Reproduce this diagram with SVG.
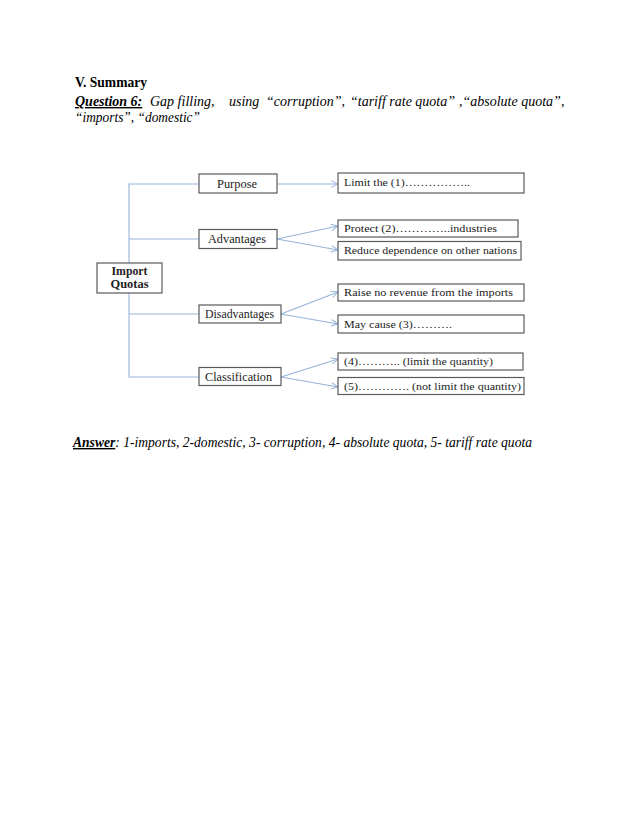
<svg xmlns="http://www.w3.org/2000/svg" width="638" height="826" viewBox="0 0 638 826">
<defs>
<style>
.body{font-family:"Liberation Serif","Times New Roman",serif;font-size:14px;fill:#000}
.it{font-style:italic}
.bd{font-weight:bold}
.box{fill:#fff;stroke:#5a5a5a;stroke-width:1.2}
.lbl{font-family:"Liberation Serif","DejaVu Serif",serif;font-size:10.5px;fill:#222}
.node{font-family:"Liberation Serif","DejaVu Serif",serif;font-size:11.5px;fill:#222}
.mid{text-anchor:middle}
.conn{fill:none;stroke:#95b3d7;stroke-width:1.1}
</style>
<marker id="ah" viewBox="0 0 10 10" refX="9.5" refY="5" markerWidth="8" markerHeight="8" markerUnits="userSpaceOnUse" orient="auto">
<path d="M1,1 L9.5,5 L1,9" fill="none" stroke="#95b3d7" stroke-width="1.2"/>
</marker>
</defs>
<rect width="638" height="826" fill="#fff"/>

<g id="header">
<text class="body bd" x="75" y="87" textLength="72" lengthAdjust="spacingAndGlyphs">V. Summary</text>
<text class="body it bd" x="75" y="106" text-decoration="underline">Question 6:</text>
<text class="body it" x="150" y="106">Gap filling,</text>
<text class="body it" x="229" y="106">using</text>
<text class="body it" x="266" y="106">“corruption”,</text>
<text class="body it" x="350" y="106">“tariff rate quota”</text>
<text class="body it" x="459" y="106">,“absolute quota”,</text>
<text class="body it" x="75" y="122" textLength="125" lengthAdjust="spacingAndGlyphs">“imports”, “domestic”</text>
</g>

<g id="connectors">
<polyline class="conn" points="199,184 129,184 129,263"/>
<line class="conn" x1="129" y1="239" x2="199" y2="239"/>
<polyline class="conn" points="129,293 129,377 199,377"/>
<line class="conn" x1="129" y1="314" x2="199" y2="314"/>
<line class="conn" x1="277" y1="184" x2="338" y2="184" marker-end="url(#ah)"/>
<line class="conn" x1="277" y1="239" x2="338" y2="226" marker-end="url(#ah)"/>
<line class="conn" x1="277" y1="239" x2="338" y2="250" marker-end="url(#ah)"/>
<line class="conn" x1="281" y1="314" x2="338" y2="292" marker-end="url(#ah)"/>
<line class="conn" x1="281" y1="314" x2="338" y2="324" marker-end="url(#ah)"/>
<line class="conn" x1="281" y1="377" x2="338" y2="359" marker-end="url(#ah)"/>
<line class="conn" x1="281" y1="377" x2="338" y2="387" marker-end="url(#ah)"/>
</g>

<g id="import-quotas">
<rect class="box" x="97" y="263" width="65" height="30"/>
<text class="node bd mid" x="129.5" y="275" textLength="36" lengthAdjust="spacingAndGlyphs">Import</text>
<text class="node bd mid" x="129.5" y="288" textLength="38" lengthAdjust="spacingAndGlyphs">Quotas</text>
</g>

<g id="purpose">
<rect class="box" x="199" y="174" width="78" height="19"/>
<text class="node mid" x="237" y="187.5" textLength="40" lengthAdjust="spacingAndGlyphs">Purpose</text>
</g>
<g id="advantages">
<rect class="box" x="199" y="229.5" width="78" height="19"/>
<text class="node mid" x="237" y="242.5" textLength="58" lengthAdjust="spacingAndGlyphs">Advantages</text>
</g>
<g id="disadvantages">
<rect class="box" x="199" y="305" width="82" height="18"/>
<text class="node mid" x="239.5" y="317.5" textLength="69" lengthAdjust="spacingAndGlyphs">Disadvantages</text>
</g>
<g id="classification">
<rect class="box" x="199" y="367.5" width="82" height="18"/>
<text class="node mid" x="238.5" y="380.5" textLength="67" lengthAdjust="spacingAndGlyphs">Classification</text>
</g>

<g id="limit">
<rect class="box" x="338" y="173" width="186" height="20"/>
<text class="lbl" x="344" y="186" textLength="126" lengthAdjust="spacingAndGlyphs">Limit the (1)……………..</text>
</g>
<g id="protect">
<rect class="box" x="338" y="220" width="180" height="17"/>
<text class="lbl" x="344" y="232" textLength="153" lengthAdjust="spacingAndGlyphs">Protect (2)…………..industries</text>
</g>
<g id="reduce">
<rect class="box" x="338" y="241.5" width="183" height="18.5"/>
<text class="lbl" x="344" y="254" textLength="173" lengthAdjust="spacingAndGlyphs">Reduce dependence on other nations</text>
</g>
<g id="raise">
<rect class="box" x="338" y="284" width="186" height="17"/>
<text class="lbl" x="344" y="296" textLength="169" lengthAdjust="spacingAndGlyphs">Raise no revenue from the imports</text>
</g>
<g id="may-cause">
<rect class="box" x="338" y="315" width="186" height="18"/>
<text class="lbl" x="344" y="327.5" textLength="108" lengthAdjust="spacingAndGlyphs">May cause (3)……….</text>
</g>
<g id="class-4">
<rect class="box" x="338" y="353" width="185" height="17"/>
<text class="lbl" x="344" y="365" textLength="149" lengthAdjust="spacingAndGlyphs">(4)……….. (limit the quantity)</text>
</g>
<g id="class-5">
<rect class="box" x="338" y="377.5" width="186" height="17"/>
<text class="lbl" x="344" y="389.5" textLength="177" lengthAdjust="spacingAndGlyphs">(5)…………. (not limit the quantity)</text>
</g>

<g id="answer">
<text class="body it" x="73" y="447" textLength="459" lengthAdjust="spacingAndGlyphs"><tspan class="bd" text-decoration="underline">Answer</tspan>: 1-imports, 2-domestic, 3- corruption, 4- absolute quota, 5- tariff rate quota</text>
</g>
</svg>
